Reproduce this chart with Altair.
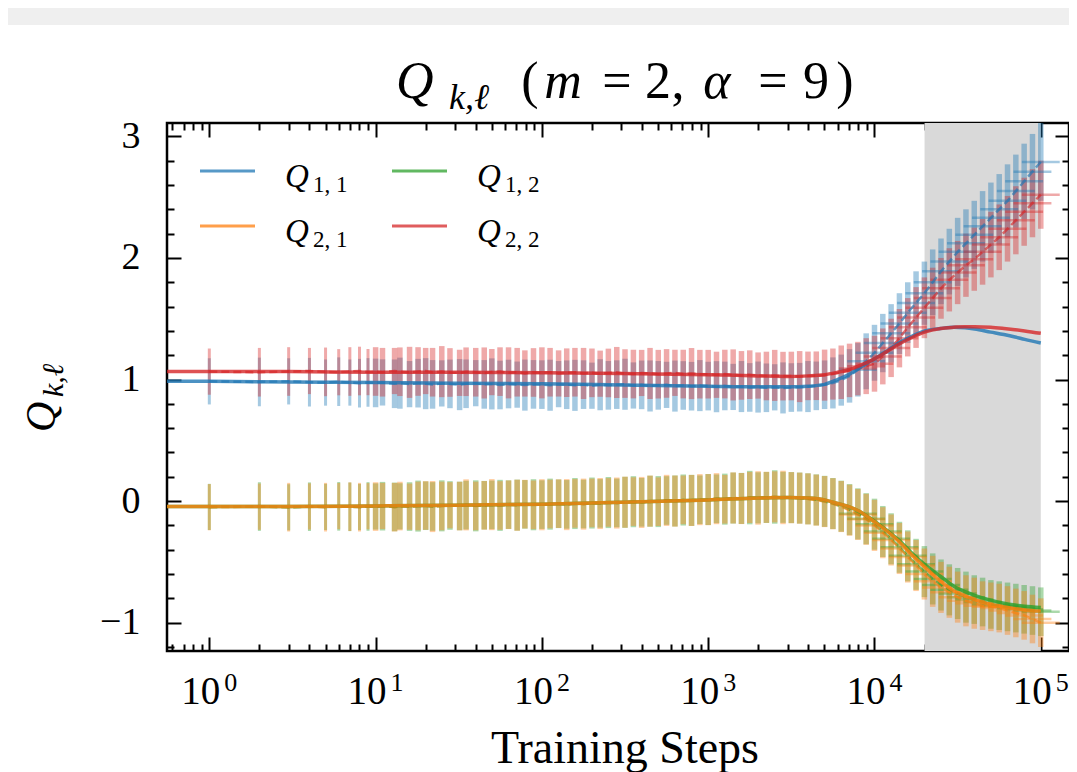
import altair as alt
import pandas as pd

SERIF = "Liberation Serif"

# ---------------- data ----------------
steps = [1, 2, 3, 4, 5, 6, 7, 8, 9,
         10, 11, 13, 14, 16, 18, 20, 22, 25, 28, 32, 35, 40, 45, 50, 56, 63, 71, 79, 89,
         100, 112, 126, 141, 158, 178, 200, 224, 251, 282, 316, 355, 398, 447, 501, 562, 631, 708, 794, 891,
         1000, 1122, 1259, 1413, 1585, 1778, 1995, 2239, 2512, 2818, 3162, 3548, 3981, 4467, 5012, 5623, 6310, 7079, 7943, 8913,
         10000, 11220, 12589, 14125, 15849, 17783, 19953, 22387, 25119, 28184, 31623, 35481, 39811, 44668, 50119, 56234, 63096, 70795, 79433, 89125, 100000]

q11_mean = [0.985, 0.98, 0.985, 0.978, 0.975, 0.982, 0.975, 0.97, 0.976,
            0.972, 0.976, 0.965, 0.97, 0.962, 0.97, 0.966, 0.96, 0.968, 0.964, 0.958, 0.965, 0.97, 0.96, 0.964, 0.955, 0.963, 0.958, 0.954, 0.96,
            0.958, 0.953, 0.962, 0.957, 0.952, 0.958, 0.949, 0.957, 0.952, 0.958, 0.961, 0.951, 0.956, 0.947, 0.952, 0.956, 0.946, 0.951, 0.945, 0.95,
            0.946, 0.941, 0.947, 0.939, 0.942, 0.935, 0.938, 0.932, 0.936, 0.931, 0.934, 0.937, 0.942, 0.948, 0.957, 0.972, 0.995, 1.03, 1.08, 1.15,
            1.22, 1.30, 1.38, 1.46, 1.55, 1.63, 1.71, 1.80, 1.89, 1.97, 2.05, 2.12, 2.19, 2.26, 2.33, 2.40, 2.47, 2.55, 2.63, 2.71, 2.79]
q11_err = [0.19, 0.2, 0.19, 0.2, 0.19, 0.2, 0.19, 0.2, 0.2,
           0.2, 0.19, 0.2, 0.21, 0.19, 0.2, 0.21, 0.2, 0.19, 0.2, 0.21, 0.2, 0.19, 0.2, 0.21, 0.2, 0.2, 0.19, 0.21, 0.2,
           0.2, 0.21, 0.19, 0.2, 0.21, 0.2, 0.19, 0.21, 0.2, 0.2, 0.21, 0.19, 0.2, 0.21, 0.2, 0.19, 0.21, 0.2, 0.2, 0.21,
           0.2, 0.21, 0.2, 0.19, 0.21, 0.2, 0.21, 0.2, 0.19, 0.21, 0.2, 0.2, 0.21, 0.2, 0.2, 0.21, 0.21, 0.22, 0.22, 0.23,
           0.23, 0.24, 0.24, 0.25, 0.25, 0.26, 0.26, 0.27, 0.27, 0.27, 0.28, 0.28, 0.28, 0.29, 0.29, 0.29, 0.3, 0.3, 0.31, 0.31, 0.32]

q22_mean = [1.065, 1.06, 1.066, 1.07, 1.063, 1.06, 1.066, 1.07, 1.061,
            1.066, 1.06, 1.07, 1.064, 1.059, 1.066, 1.07, 1.06, 1.065, 1.058, 1.055, 1.064, 1.06, 1.054, 1.061, 1.065, 1.055, 1.06, 1.05, 1.058,
            1.055, 1.06, 1.05, 1.056, 1.06, 1.05, 1.055, 1.048, 1.054, 1.058, 1.049, 1.045, 1.054, 1.05, 1.044, 1.05, 1.055, 1.045, 1.049, 1.044,
            1.044, 1.039, 1.045, 1.038, 1.034, 1.04, 1.033, 1.029, 1.034, 1.028, 1.029, 1.024, 1.03, 1.031, 1.036, 1.045, 1.06, 1.075, 1.09, 1.11,
            1.13, 1.19, 1.26, 1.34, 1.43, 1.51, 1.59, 1.67, 1.75, 1.82, 1.88, 1.94, 1.99, 2.05, 2.11, 2.17, 2.24, 2.31, 2.38, 2.45, 2.52]
q22_err = [0.19, 0.2, 0.2, 0.19, 0.2, 0.19, 0.2, 0.2, 0.19,
           0.2, 0.2, 0.19, 0.2, 0.21, 0.2, 0.19, 0.2, 0.21, 0.2, 0.19, 0.2, 0.2, 0.21, 0.19, 0.2, 0.21, 0.2, 0.19, 0.2,
           0.21, 0.2, 0.19, 0.2, 0.2, 0.21, 0.2, 0.19, 0.2, 0.21, 0.2, 0.2, 0.19, 0.21, 0.2, 0.2, 0.19, 0.2, 0.21, 0.2,
           0.2, 0.19, 0.2, 0.21, 0.2, 0.2, 0.19, 0.2, 0.21, 0.2, 0.2, 0.21, 0.2, 0.2, 0.21, 0.21, 0.22, 0.22, 0.22, 0.23,
           0.23, 0.23, 0.24, 0.24, 0.24, 0.25, 0.25, 0.25, 0.25, 0.26, 0.26, 0.26, 0.26, 0.27, 0.27, 0.27, 0.27, 0.28, 0.28, 0.28, 0.28]

q21_mean = [-0.05, -0.046, -0.05, -0.044, -0.05, -0.041, -0.046, -0.05, -0.042,
            -0.045, -0.04, -0.05, -0.041, -0.046, -0.04, -0.036, -0.045, -0.04, -0.034, -0.041, -0.031, -0.04, -0.035, -0.029, -0.036, -0.03, -0.034, -0.025, -0.031,
            -0.03, -0.024, -0.021, -0.029, -0.019, -0.025, -0.015, -0.02, -0.011, -0.016, -0.009, -0.004, -0.011, 0.0, -0.005, 0.006, 0.0, 0.01, 0.005, 0.012,
            0.012, 0.02, 0.015, 0.026, 0.021, 0.03, 0.026, 0.031, 0.035, 0.03, 0.028, 0.024, 0.018, 0.008, -0.004, -0.022, -0.045, -0.075, -0.11, -0.15,
            -0.2, -0.26, -0.32, -0.39, -0.46, -0.53, -0.6, -0.66, -0.71, -0.75, -0.79, -0.82, -0.84, -0.86, -0.87, -0.88, -0.9, -0.92, -0.94, -0.97, -1.0]
q21_err = [0.19, 0.19, 0.2, 0.19, 0.2, 0.19, 0.2, 0.2, 0.19,
           0.2, 0.19, 0.2, 0.2, 0.19, 0.2, 0.2, 0.21, 0.2, 0.19, 0.2, 0.21, 0.2, 0.2, 0.21, 0.2, 0.2, 0.21, 0.2, 0.2,
           0.21, 0.2, 0.2, 0.21, 0.2, 0.21, 0.2, 0.21, 0.2, 0.21, 0.21, 0.2, 0.21, 0.21, 0.2, 0.21, 0.21, 0.2, 0.21, 0.21,
           0.21, 0.21, 0.2, 0.21, 0.21, 0.21, 0.22, 0.21, 0.21, 0.22, 0.21, 0.21, 0.21, 0.21, 0.21, 0.21, 0.21, 0.21, 0.21, 0.21,
           0.21, 0.21, 0.21, 0.21, 0.21, 0.21, 0.21, 0.21, 0.21, 0.21, 0.21, 0.21, 0.21, 0.2, 0.2, 0.2, 0.2, 0.2, 0.2, 0.2, 0.2]

q12_mean = [-0.048, -0.045, -0.051, -0.046, -0.048, -0.043, -0.047, -0.049, -0.044,
            -0.044, -0.042, -0.048, -0.043, -0.045, -0.041, -0.038, -0.044, -0.039, -0.036, -0.04, -0.033, -0.039, -0.034, -0.031, -0.035, -0.029, -0.033, -0.027, -0.03,
            -0.029, -0.025, -0.022, -0.027, -0.02, -0.024, -0.016, -0.019, -0.012, -0.015, -0.01, -0.005, -0.01, -0.001, -0.004, 0.005, 0.001, 0.009, 0.006, 0.011,
            0.013, 0.019, 0.016, 0.025, 0.022, 0.029, 0.027, 0.03, 0.034, 0.031, 0.029, 0.025, 0.019, 0.01, -0.002, -0.02, -0.042, -0.07, -0.105, -0.145,
            -0.19, -0.25, -0.31, -0.38, -0.45, -0.52, -0.58, -0.64, -0.69, -0.73, -0.76, -0.79, -0.81, -0.83, -0.85, -0.86, -0.87, -0.88, -0.89, -0.9, -0.91]
q12_err = [0.19, 0.2, 0.19, 0.2, 0.19, 0.2, 0.2, 0.19, 0.2,
           0.19, 0.2, 0.2, 0.19, 0.2, 0.21, 0.2, 0.2, 0.21, 0.2, 0.2, 0.2, 0.21, 0.2, 0.2, 0.21, 0.2, 0.21, 0.2, 0.21,
           0.2, 0.21, 0.2, 0.2, 0.21, 0.2, 0.21, 0.2, 0.21, 0.2, 0.21, 0.21, 0.2, 0.21, 0.21, 0.2, 0.21, 0.21, 0.21, 0.2,
           0.21, 0.2, 0.21, 0.21, 0.21, 0.22, 0.21, 0.21, 0.22, 0.21, 0.21, 0.21, 0.21, 0.21, 0.21, 0.21, 0.21, 0.21, 0.21, 0.21,
           0.21, 0.21, 0.21, 0.21, 0.21, 0.21, 0.21, 0.21, 0.21, 0.21, 0.21, 0.21, 0.2, 0.2, 0.2, 0.2, 0.2, 0.2, 0.2, 0.2, 0.2]

# horizontal (step) error bars of the late evaluation points (steps 7943 ... 100000)
late_first = 67
hx_lo = [6110, 6856, 7692, 8631, 9684, 10865, 12192, 13679, 15348, 17221, 19322, 21680,
         24325, 27293, 30624, 34360, 38553, 43257, 48535, 54458, 61102, 68558, 76923]
hx_hi = [10326, 11587, 13000, 14586, 16365, 18363, 20604, 23118, 25939, 29103, 32655, 36639,
         41110, 46126, 51754, 58068, 65155, 73104, 82025, 92033, 103263, 115863, 130000]

# theory curves
th_steps = [0.5, 1, 3, 10, 30, 100, 300, 1000, 2000, 3000, 4000, 5000, 6000, 7000, 8000,
            10000, 12000, 14000, 17000, 20000, 25000, 30000, 35000, 40000, 50000, 60000, 70000, 80000, 100000]
q11_th = [0.985, 0.985, 0.98, 0.975, 0.97, 0.965, 0.955, 0.945, 0.94, 0.94, 0.945, 0.96, 1.0, 1.04, 1.09,
          1.17, 1.24, 1.30, 1.36, 1.40, 1.42, 1.43, 1.425, 1.415, 1.39, 1.37, 1.35, 1.33, 1.30]
q22_th = [1.065, 1.065, 1.065, 1.06, 1.06, 1.055, 1.05, 1.04, 1.03, 1.025, 1.03, 1.04, 1.06, 1.08, 1.11,
          1.17, 1.235, 1.29, 1.35, 1.39, 1.42, 1.43, 1.435, 1.435, 1.43, 1.42, 1.41, 1.40, 1.38]
q21_th = [-0.045, -0.045, -0.045, -0.04, -0.035, -0.025, -0.01, 0.01, 0.025, 0.03, 0.025, 0.01, -0.02, -0.045, -0.08,
          -0.17, -0.25, -0.33, -0.45, -0.54, -0.66, -0.74, -0.78, -0.81, -0.85, -0.87, -0.885, -0.895, -0.905]
q12_th = [-0.045, -0.045, -0.045, -0.04, -0.035, -0.025, -0.01, 0.01, 0.025, 0.03, 0.025, 0.01, -0.02, -0.045, -0.08,
          -0.165, -0.245, -0.32, -0.435, -0.52, -0.62, -0.70, -0.745, -0.775, -0.815, -0.84, -0.855, -0.865, -0.875]

band_start = [20000]
band_end = [100000]

series_order = ["Q12", "Q21", "Q11", "Q22"]
series_colors = ["#2ca02c", "#ff7f0e", "#1f77b4", "#d62728"]
series_data = {"Q12": (q12_mean, q12_err, q12_th), "Q21": (q21_mean, q21_err, q21_th),
               "Q11": (q11_mean, q11_err, q11_th), "Q22": (q22_mean, q22_err, q22_th)}

# ---------------- tables ----------------
exp_rows, th_rows, h_rows = [], [], []
for s in series_order:
    m, e, t = series_data[s]
    for st, mv, ev in zip(steps, m, e):
        exp_rows.append({"step": st, "series": s, "mean": mv, "lo": mv - ev, "hi": mv + ev})
    for st, tv in zip(th_steps, t):
        th_rows.append({"step": st, "series": s, "val": tv})
    for i, (a, b) in enumerate(zip(hx_lo, hx_hi)):
        h_rows.append({"series": s, "xlo": a, "xhi": b, "mean": m[late_first + i]})
exp_df = pd.DataFrame(exp_rows)
th_df = pd.DataFrame(th_rows)
h_df = pd.DataFrame(h_rows)
band_df = pd.DataFrame({"start": band_start, "end": band_end})

# ---------------- scales ----------------
xscale = alt.Scale(type="log", domain=[0.5566, 147800], nice=False)
yscale = alt.Scale(domain=[-1.233, 3.11], nice=False, zero=False)
cscale = alt.Scale(domain=series_order, range=series_colors)
oscale = alt.Scale(domain=series_order, range=[0.4, 0.4, 0.33, 0.33])

x_major = [1, 10, 100, 1000, 10000, 100000]
x_minor = [0.6, 0.7, 0.8, 0.9] + [k * 10 ** p for p in range(0, 5) for k in range(2, 10)]
y_major = [-1, 0, 1, 2, 3]
y_minor = [-1.2, -0.8, -0.6, -0.4, -0.2, 0.2, 0.4, 0.6, 0.8, 1.2, 1.4, 1.6, 1.8, 2.2, 2.4, 2.6, 2.8]

# ---------------- layers ----------------
W, H = 902, 528

strip = alt.Chart(alt.Data(values=[{"a": 1}])).mark_rect(color="#efefef").encode(
    x=alt.value(-159), x2=alt.value(W), y=alt.value(-115), y2=alt.value(-98))

band = alt.Chart(band_df).mark_rect(color="#d9d9d9").encode(
    x=alt.X("start:Q", scale=xscale, axis=None), x2="end:Q")

err_early = alt.Chart(exp_df).transform_filter("datum.step < 10").mark_rule(strokeWidth=3).encode(
    x=alt.X("step:Q", scale=xscale, axis=None),
    y=alt.Y("lo:Q", scale=yscale, axis=None), y2="hi:Q",
    color=alt.Color("series:N", scale=cscale, legend=None),
    opacity=alt.Opacity("series:N", scale=oscale, legend=None))

err_late = alt.Chart(exp_df).transform_filter("datum.step >= 10").mark_rule(strokeWidth=5.5).encode(
    x=alt.X("step:Q", scale=xscale, axis=None),
    y=alt.Y("lo:Q", scale=yscale, axis=None), y2="hi:Q",
    color=alt.Color("series:N", scale=cscale, legend=None),
    opacity=alt.Opacity("series:N", scale=oscale, legend=None))

herr = alt.Chart(h_df).mark_rule(strokeWidth=2.5).encode(
    x=alt.X("xlo:Q", scale=xscale, axis=None), x2="xhi:Q",
    y=alt.Y("mean:Q", scale=yscale, axis=None),
    color=alt.Color("series:N", scale=cscale, legend=None),
    opacity=alt.Opacity("series:N", scale=oscale, legend=None))

means = alt.Chart(exp_df).mark_line(strokeWidth=2.5, strokeDash=[8, 4], opacity=0.65).encode(
    x=alt.X("step:Q", scale=xscale, axis=None),
    y=alt.Y("mean:Q", scale=yscale, axis=None),
    color=alt.Color("series:N", scale=cscale, legend=None),
    detail="series:N")

theory = alt.Chart(th_df).mark_line(strokeWidth=3.5, opacity=0.8, interpolate="monotone", clip=True).encode(
    x=alt.X("step:Q", scale=xscale, axis=None),
    y=alt.Y("val:Q", scale=yscale, axis=None),
    color=alt.Color("series:N", scale=cscale, legend=None),
    detail="series:N")

common = dict(domain=False, grid=False, title=None, tickColor="black", tickWidth=2,
              labelColor="black", labelFont=SERIF)


def axis_layer(xaxis, yaxis):
    return alt.Chart(th_df).mark_point(opacity=0, clip=True).encode(
        x=alt.X("step:Q", scale=xscale, axis=xaxis),
        y=alt.Y("val:Q", scale=yscale, axis=yaxis))


ax1 = axis_layer(
    alt.Axis(orient="bottom", values=x_major, tickSize=14, offset=-14, labelExpr="'10'",
             labelFontSize=39, labelPadding=52, labelBaseline="alphabetic", labelOffset=-9,
             labelFlush=False, labelOverlap=False, **common),
    alt.Axis(orient="left", values=y_major, tickSize=14, offset=-14, labelFontSize=38,
             labelPadding=27, labelBaseline="middle", labelAlign="right", format="d", **common))
ax2 = axis_layer(
    alt.Axis(orient="bottom", values=x_major, tickSize=14, offset=-14, tickOpacity=0,
             labelExpr="'' + round(log(datum.value) / LN10)",
             labelFontSize=26, labelPadding=39, labelBaseline="alphabetic", labelOffset=21,
             labelFlush=False, labelOverlap=False, **common),
    alt.Axis(orient="left", values=y_minor, tickSize=7, offset=-7, labels=False, **common))
ax3 = axis_layer(
    alt.Axis(orient="bottom", values=x_minor, tickSize=7, offset=-7, labels=False, **common),
    alt.Axis(orient="right", values=y_major, tickSize=14, offset=-14, labels=False, **common))
ax4 = axis_layer(
    alt.Axis(orient="top", values=x_major, tickSize=14, offset=-14, labels=False, **common),
    alt.Axis(orient="right", values=y_minor, tickSize=7, offset=-7, labels=False, **common))
ax5 = axis_layer(
    alt.Axis(orient="top", values=x_minor, tickSize=7, offset=-7, labels=False, **common),
    None)


def T(text, x, y, size, italic=False, angle=0, align="left"):
    return alt.Chart(alt.Data(values=[{"a": 1}])).mark_text(
        text=text, font=SERIF, fontSize=size, fontStyle="italic" if italic else "normal",
        align=align, baseline="alphabetic", angle=angle, color="black"
    ).encode(x=alt.value(x), y=alt.value(y))


def legline(color, x0, x1, y):
    return alt.Chart(alt.Data(values=[{"a": 1}])).mark_rule(
        color=color, strokeWidth=3, opacity=0.75).encode(
        x=alt.value(x0), x2=alt.value(x1), y=alt.value(y))


texts = [
    # title  Q_{k,l} (m = 2, alpha = 9)
    T("Q", 229, -25, 52, italic=True),
    T("k,ℓ", 302, -14, 36, italic=True, align="center"),
    T("(", 363, -25, 52, align="center"),
    T("m", 396, -25, 52, italic=True, align="center"),
    T("=", 450, -25, 52, align="center"),
    T("2", 491, -25, 52, align="center"),
    T(",", 511, -25, 52, align="center"),
    T("α", 550, -25, 52, italic=True, align="center"),
    T("=", 606, -25, 52, align="center"),
    T("9", 649, -25, 52, align="center"),
    T(")", 678, -25, 52, align="center"),
    # axis titles
    T("Training Steps", 458, 640, 46, align="center"),
    T("Q", -112, 309, 42, italic=True, angle=270),
    T("k,ℓ", -104, 274, 30, italic=True, angle=270),
    # legend
    legline("#1f77b4", 33, 88, 48),
    legline("#ff7f0e", 33, 88, 103),
    legline("#2ca02c", 225, 280, 48),
    legline("#d62728", 225, 280, 103),
    T("Q", 118, 64, 33, italic=True), T("1, 1", 146, 69, 23),
    T("Q", 118, 119, 33, italic=True), T("2, 1", 146, 124, 23),
    T("Q", 310, 64, 33, italic=True), T("1, 2", 338, 69, 23),
    T("Q", 310, 119, 33, italic=True), T("2, 2", 338, 124, 23),
]

chart = alt.layer(
    strip, band, err_early, err_late, herr, means, theory, ax1, ax2, ax3, ax4, ax5, *texts
).resolve_axis(x="independent", y="independent").properties(
    width=W, height=H,
    autosize=alt.AutoSizeParams(type="none"),
    padding={"left": 159, "top": 115, "right": 0, "bottom": 121},
    background="white",
).configure_view(stroke="black", strokeWidth=2.5)

chart.save("out.html", embed_options={"renderer": "svg", "actions": False})
